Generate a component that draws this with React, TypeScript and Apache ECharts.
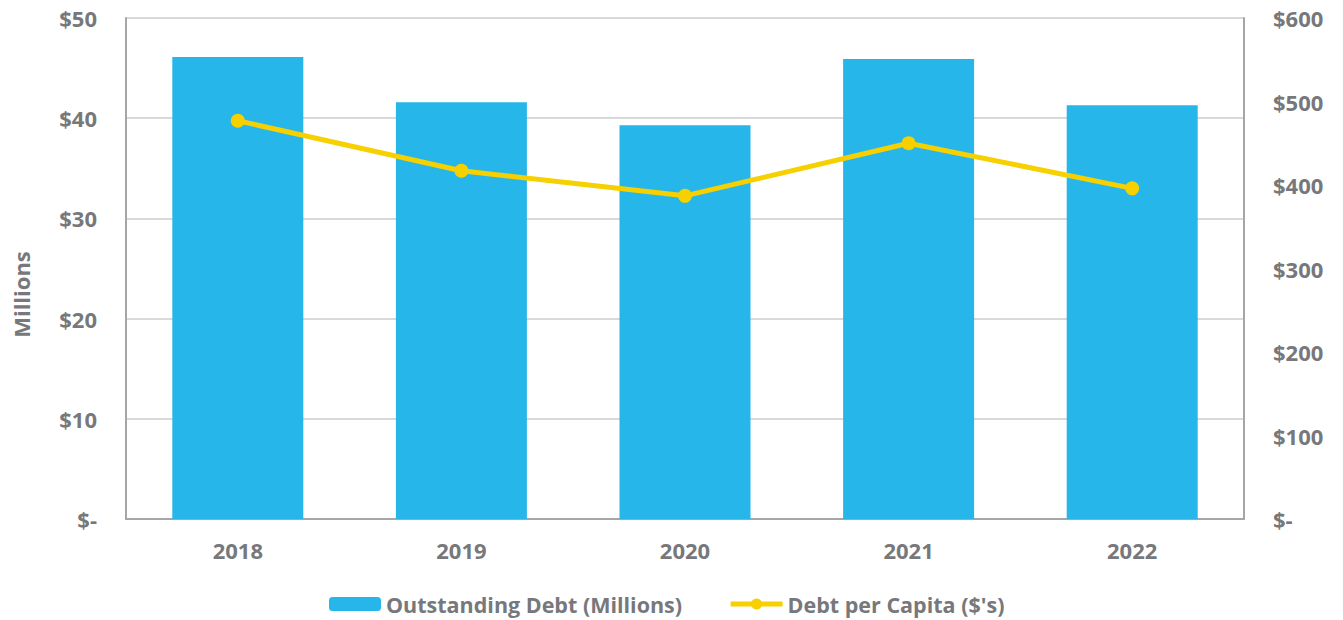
import React, { useEffect, useRef } from "react";
import * as echarts from "echarts";

const categories = ["2018", "2019", "2020", "2021", "2022"];
const outstandingDebt = [46.1, 41.6, 39.3, 45.9, 41.3];
const debtPerCapita = [477, 417, 387, 450, 396];
const leftTicks = { min: 0, max: 50, interval: 10 };
const rightTicks = { min: 0, max: 600, interval: 100 };

const BLUE = "#27B6E9";
const YELLOW = "#F7D000";
const TEXT = "#77787B";
const FONT = "Open Sans";

export default function App() {
  const ref = useRef<HTMLDivElement>(null);
  useEffect(() => {
    if (!ref.current) return;
    const chart = echarts.init(ref.current, null, { renderer: "svg" });
    const labelStyle = { color: TEXT, fontFamily: FONT, fontWeight: "bold" as const, fontSize: 22 };
    const fmt = (v: number) => (v === 0 ? "$-" : "$" + v);
    chart.setOption({
      animation: false,
      grid: { left: 126, right: 99, top: 18, bottom: 101, containLabel: false },
      legend: {
        data: [
          { name: "Outstanding Debt (Millions)" },
          { name: "Debt per Capita ($'s)", lineStyle: { width: 5, color: YELLOW } },
        ],
        left: 324,
        top: 588,
        itemWidth: 52,
        itemHeight: 14,
        itemGap: 46,
        textStyle: { ...labelStyle, fontSize: 21.5 },
      },
      xAxis: {
        type: "category",
        data: categories,
        axisLine: { lineStyle: { color: "#A6A6A6", width: 2 } },
        axisTick: { show: false },
        axisLabel: { ...labelStyle, margin: 20 },
      },
      yAxis: [
        {
          type: "value",
          ...leftTicks,
          name: "Millions",
          nameLocation: "middle",
          nameGap: 94,
          nameTextStyle: { ...labelStyle, padding: [0, 52, 0, 0] },
          axisLine: { show: true, lineStyle: { color: "#A6A6A6", width: 2 } },
          axisTick: { show: false },
          splitLine: { lineStyle: { color: "#D9D9D9", width: 2 } },
          axisLabel: { ...labelStyle, margin: 29, formatter: fmt },
        },
        {
          type: "value",
          ...rightTicks,
          position: "right",
          axisLine: { show: true, lineStyle: { color: "#A6A6A6", width: 2 } },
          axisTick: { show: false },
          splitLine: { show: false },
          axisLabel: { ...labelStyle, margin: 29, formatter: fmt },
        },
      ],
      series: [
        {
          name: "Outstanding Debt (Millions)",
          type: "bar",
          data: outstandingDebt,
          barWidth: 131,
          itemStyle: { color: BLUE },
        },
        {
          name: "Debt per Capita ($'s)",
          type: "line",
          yAxisIndex: 1,
          data: debtPerCapita,
          symbol: "circle",
          symbolSize: 14,
          lineStyle: { color: YELLOW, width: 5 },
          itemStyle: { color: YELLOW },
        },
      ],
    });
    return () => chart.dispose();
  }, []);
  return (
    <div
      ref={ref}
      style={{ position: "absolute", left: 0, top: 0, width: 1343, height: 620 }}
    />
  );
}
